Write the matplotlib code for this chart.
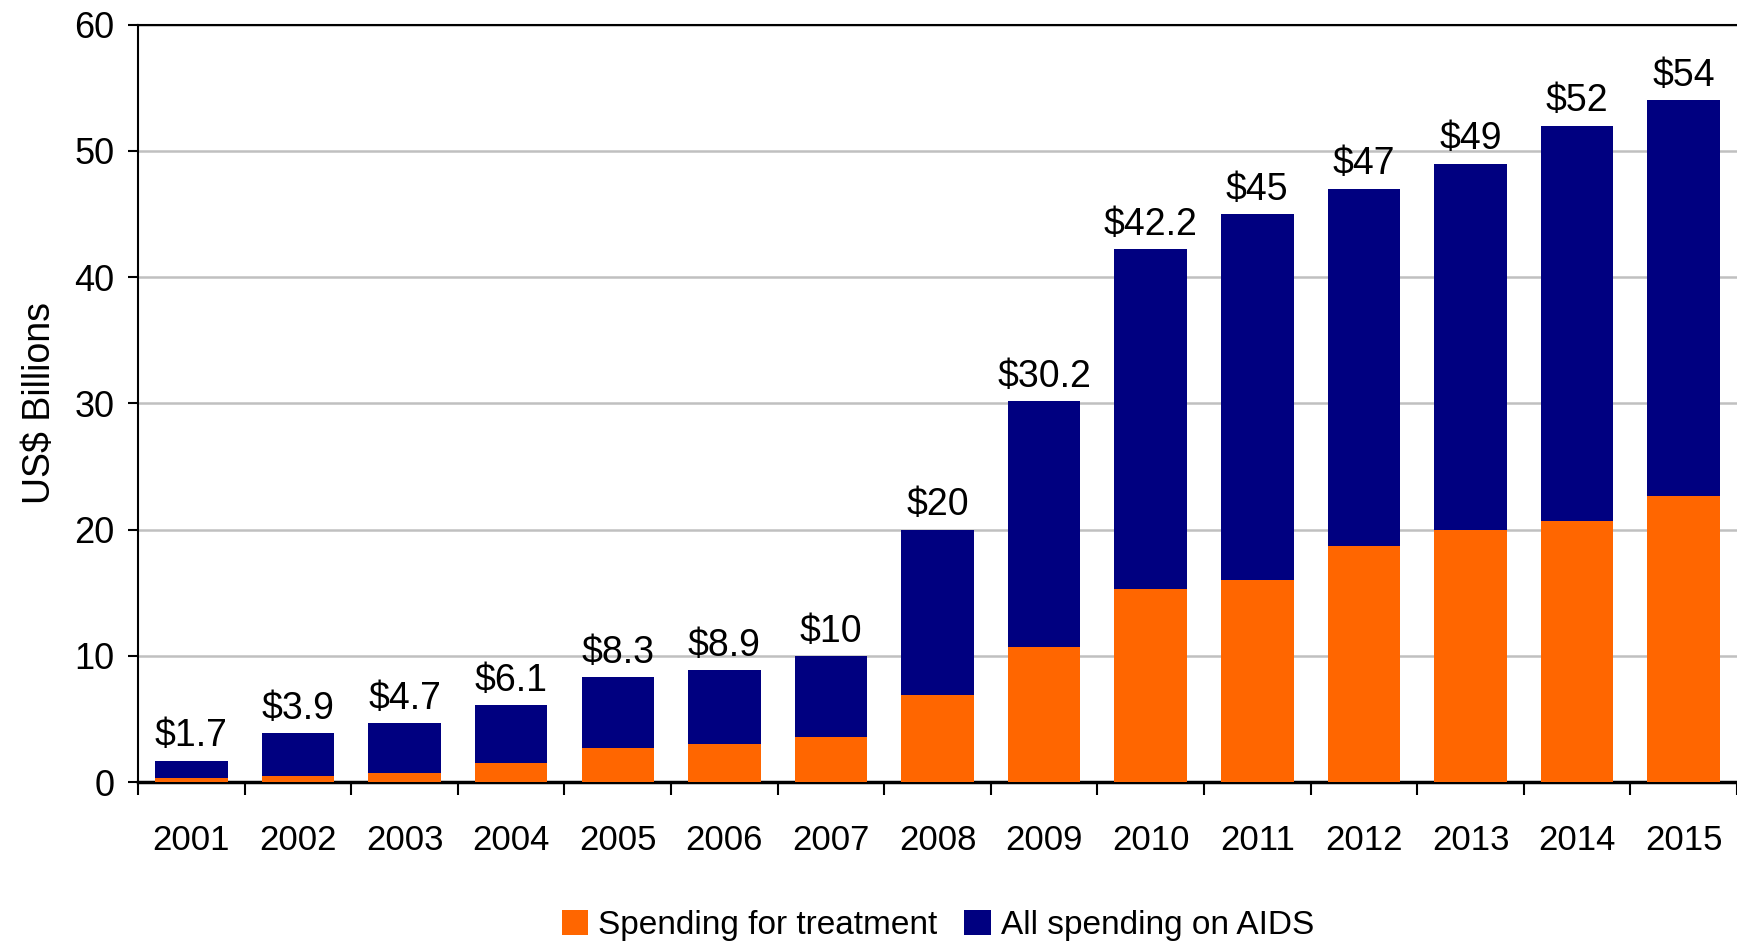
import matplotlib
matplotlib.use('Agg')
import matplotlib.pyplot as plt
import numpy as np

years = ['2001', '2002', '2003', '2004', '2005', '2006', '2007', '2008',
         '2009', '2010', '2011', '2012', '2013', '2014', '2015']
total = [1.7, 3.9, 4.7, 6.1, 8.3, 8.9, 10, 20, 30.2, 42.2, 45, 47, 49, 52, 54]
treatment = [0.3, 0.5, 0.7, 1.5, 2.7, 3.0, 3.6, 6.9, 10.7, 15.3, 16.0, 18.7, 20.0, 20.7, 22.7]
total_labels = ['$1.7', '$3.9', '$4.7', '$6.1', '$8.3', '$8.9', '$10', '$20',
                '$30.2', '$42.2', '$45', '$47', '$49', '$52', '$54']

plt.rcParams['font.family'] = ['Liberation Sans', 'DejaVu Sans']

fig = plt.figure(figsize=(17.37, 9.47), dpi=100)
ax = fig.add_axes([0.0795, 0.174, 0.9205, 0.800])

x = np.arange(len(years))
rest = np.array(total) - np.array(treatment)
w = 0.68
b1 = ax.bar(x, treatment, w, color='#FF6600', label='Spending for treatment', zorder=3)
b2 = ax.bar(x, rest, w, bottom=treatment, color='#000080', label='All spending on AIDS', zorder=3)

for xi, t, lab in zip(x, total, total_labels):
    ax.text(xi, t + 0.5, lab, ha='center', va='bottom', fontsize=27)

ax.set_xlim(-0.5, len(years) - 0.5)
ax.set_ylim(0, 60)
ax.set_yticks(range(0, 61, 10))
ax.yaxis.grid(True, color='#c0c0c0', linewidth=1.8, zorder=0)
ax.set_axisbelow(True)

ax.set_xticks(x)
ax.set_xticklabels(years)
ax.set_xticks(np.arange(-0.5, len(years), 1), minor=True)
ax.tick_params(axis='x', which='major', length=0, pad=30, labelsize=25)
ax.tick_params(axis='x', which='minor', length=9, width=1.5, direction='out')
ax.tick_params(axis='y', length=7, width=1.5, direction='out', pad=10, labelsize=26)

for s in ['left', 'top']:
    ax.spines[s].set_linewidth(1.5)
ax.spines['bottom'].set_linewidth(2.5)
ax.spines['right'].set_visible(False)

ax.set_ylabel('US$ Billions', fontsize=27, labelpad=12)

fig.legend(handles=[b1, b2], loc='center', bbox_to_anchor=(0.54, 0.023),
           ncol=2, frameon=False, prop={'size': 24},
           handlelength=0.8, handleheight=0.8, handletextpad=0.3, columnspacing=0.8)

fig.savefig('out.png', dpi=100)
